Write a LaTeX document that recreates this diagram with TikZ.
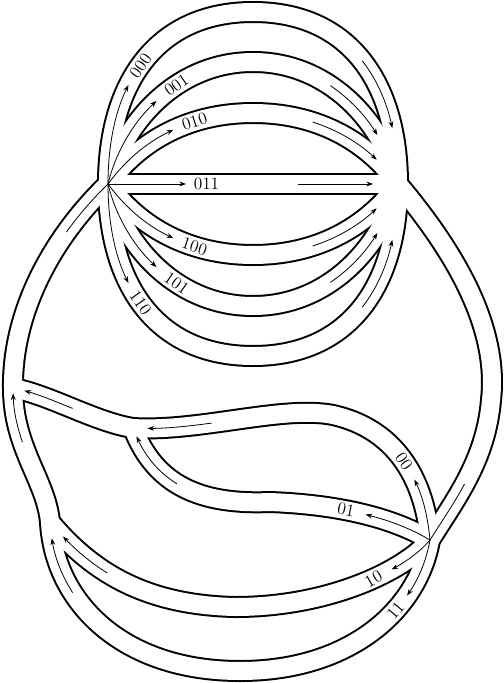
\documentclass[tikz,border=0pt]{standalone}
\usetikzlibrary{arrows.meta}

\tikzset{
  wall/.style={draw=black, line width=16.5pt, line cap=round, line join=round},
  bed/.style={draw=white, line width=13.5pt, line cap=round, line join=round},
  flow/.style={line width=0.6pt, -{Stealth[length=5pt,width=3.6pt]}},
  drift/.style={line width=0.6pt},
  code/.style={inner sep=0pt, font=\fontsize{13}{13}\selectfont},
}

\newcommand{\canals}[1]{%
\draw [#1] (L) .. controls (108,85) and (155,12) .. (253,12) .. controls (351,12) and (398,85) .. (R) .. controls (445,240) and (500,320) .. (491,400) .. controls (486,460) and (455,500) .. (J) .. controls (418,610) and (350,671) .. (240,671) .. controls (120,671) and (54,600) .. (B) .. controls (46,480) and (13,448) .. (N) .. controls (12,320) and (45,245) .. (L) ;
\draw [#1] (L) .. controls (122,125) and (175,62) .. (253,62) .. controls (331,62) and (384,125) .. (R) ;
\draw [#1] (L) .. controls (140,140) and (190,113) .. (253,113) .. controls (316,113) and (366,140) .. (R) ;
\draw [#1] (L) -- (R) ;
\draw [#1] (L) .. controls (140,228) and (190,255) .. (253,255) .. controls (316,255) and (366,228) .. (R) ;
\draw [#1] (L) .. controls (122,243) and (175,306) .. (253,306) .. controls (331,306) and (384,243) .. (R) ;
\draw [#1] (L) .. controls (108,283) and (155,356) .. (253,356) .. controls (351,356) and (398,283) .. (R) ;
\draw [#1] (J) .. controls (425,485) and (400,430) .. (333,415) .. controls (283,405) and (200,432) .. (M) ;
\draw [#1] (J) .. controls (400,522) and (350,505) .. (270,502) .. controls (200,505) and (155,485) .. (M) ;
\draw [#1] (M) .. controls (95,422) and (50,395) .. (N) ;
\draw [#1] (J) .. controls (405,570) and (330,607) .. (235,607) .. controls (145,605) and (92,572) .. (B) ;
}

\begin{document}
\begin{tikzpicture}[x=0.75pt,y=0.75pt,yscale=-1,xscale=1]
\useasboundingbox (0,0) rectangle (504,683);

\coordinate (L) at (108,184);
\coordinate (R) at (398,184);
\coordinate (J) at (430,540);
\coordinate (M) at (133,428);
\coordinate (N) at (13,388);
\coordinate (B) at (50,522);

\canals{wall}
\canals{bed}

\coordinate (a000) at (128.5,84.9);
\coordinate (a001) at (156.5,100.9);
\coordinate (a010) at (173.3,129.9);
\coordinate (a011) at (186,184);
\coordinate (a100) at (173.3,238.1);
\coordinate (a101) at (156.5,267.1);
\coordinate (a110) at (128.5,283.1);

\draw [flow] (L) .. controls (108,146.4) and (114.8,112.5) .. (a000);
\draw [flow] (L) .. controls (115,154.5) and (131.8,124) .. (a001);
\draw [flow] (L) .. controls (125,160.7) and (147,142.2) .. (a010);
\draw [flow] (L) -- (a011);
\draw [flow] (L) .. controls (125,207.3) and (147,225.8) .. (a100);
\draw [flow] (L) .. controls (115,213.5) and (131.8,244) .. (a101);
\draw [flow] (L) .. controls (108,221.6) and (114.8,255.5) .. (a110);

\node [code, rotate=55] (n000) at (140.5,65.5) {000};
\node [code, rotate=35] (n001) at (176.5,85) {001};
\node [code, rotate=18] (n010) at (194.5,121.5) {010};
\node [code] (n011) at (206.5,184) {011};
\node [code, rotate=-18] (n100) at (194.5,246.5) {100};
\node [code, rotate=-35] (n101) at (176.5,283) {101};
\node [code, rotate=-55] (n110) at (140.5,302.5) {110};

\coordinate (b000) at (362.3,60.9);
\coordinate (c000) at (392.3,128.1);
\coordinate (b001) at (330.3,85.6);
\coordinate (c001) at (377.4,135);
\coordinate (b010) at (312.6,122);
\coordinate (c010) at (376.7,159.7);
\coordinate (b011) at (298,184);
\coordinate (c011) at (373,184);
\coordinate (b100) at (312.6,246);
\coordinate (c100) at (376.7,208.3);
\coordinate (b101) at (330.3,282.4);
\coordinate (c101) at (377.4,233);
\coordinate (b110) at (362.3,307.1);
\coordinate (c110) at (392.3,239.9);

\draw [flow] (b000) .. controls (376.7,79.3) and (386.7,102.1) .. (c000);
\draw [flow] (b001) .. controls (349.7,98.6) and (365.6,116) .. (c001);
\draw [flow] (b010) .. controls (337.3,129.9) and (358.8,142.8) .. (c010);
\draw [flow] (b011) -- (c011);
\draw [flow] (b100) .. controls (337.3,238.1) and (358.8,225.2) .. (c100);
\draw [flow] (b101) .. controls (349.7,269.4) and (365.6,252) .. (c101);
\draw [flow] (b110) .. controls (376.7,288.7) and (386.7,265.9) .. (c110);

\coordinate (d1) at (66.4,232.1);
\coordinate (d2) at (464.5,484.2);
\draw [drift] (d1) .. controls (78.3,215.4) and (92.3,199.3) .. (L);
\draw [drift] (d2) .. controls (453.7,504) and (441.3,522) .. (J);

\coordinate (a00) at (414.4,479.5);
\coordinate (a01) at (365.6,514.5);
\coordinate (a10) at (391.6,569.5);
\coordinate (a11) at (407.1,595.5);

\draw [flow] (J) .. controls (428.1,519.1) and (423.4,498.2) .. (a00);
\draw [flow] (J) .. controls (414.4,530.6) and (393.4,521.6) .. (a01);
\draw [flow] (J) .. controls (422,549.6) and (408.9,560) .. (a10);
\draw [flow] (J) .. controls (426.6,559.6) and (418.8,578.5) .. (a11);

\node [code, rotate=-56] (n00) at (404,461) {00};
\node [code, rotate=-11] (n01) at (346,510) {01};
\node [code, rotate=30] (n10) at (373.5,579) {10};
\node [code, rotate=50] (n11) at (395.5,610.5) {11};

\coordinate (b00) at (211.5,423.1);
\coordinate (c00) at (147.3,428.4);
\coordinate (b01) at (176.8,483.7);
\coordinate (c01) at (136.5,436.3);
\coordinate (bmn) at (72.6,408.4);
\coordinate (cmn) at (24.3,390.7);
\coordinate (bbn) at (22.5,442.3);
\coordinate (cbn) at (13.1,393.3);
\coordinate (b11) at (72.6,592.6);
\coordinate (c11) at (51.8,538.3);
\coordinate (b10) at (107.3,573);
\coordinate (c10) at (63,536.5);

\draw [flow] (b00) .. controls (189.9,426) and (168,428.4) .. (c00);
\draw [flow] (b01) .. controls (159.6,473.1) and (146.2,457.6) .. (c01);
\draw [flow] (bmn) .. controls (56.1,401.7) and (39.7,394.9) .. (cmn);
\draw [flow] (bbn) .. controls (17.5,427.9) and (13.7,412) .. (cbn);
\draw [flow] (b11) .. controls (61.9,575.9) and (54.9,557.5) .. (c11);
\draw [flow] (b10) .. controls (90.8,562.8) and (76.3,550.4) .. (c10);

\end{tikzpicture}
\end{document}
